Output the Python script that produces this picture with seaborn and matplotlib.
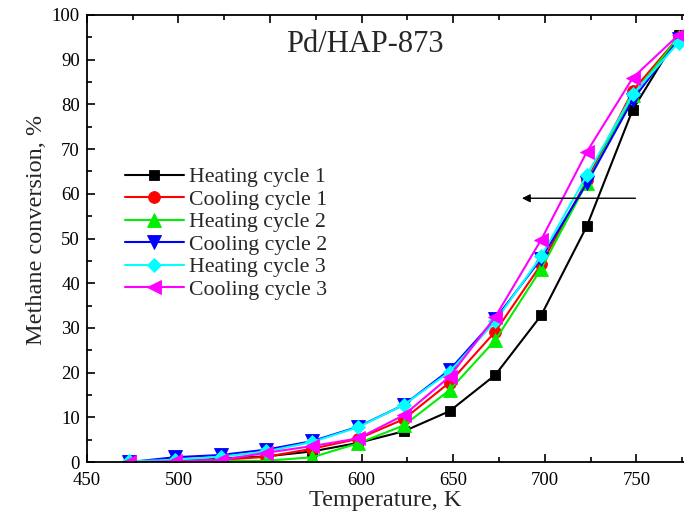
import matplotlib
matplotlib.use("Agg")
import matplotlib.pyplot as plt
import seaborn as sns
import pandas as pd
from matplotlib.ticker import MultipleLocator

temperature = [473, 498, 523, 548, 573, 598, 623, 648, 673, 698, 723, 748, 773]
heating1 = [0.0, 0.3, 0.8, 1.3, 2.4, 4.3, 6.9, 11.4, 19.5, 32.8, 52.8, 78.8, 95.5]
cooling1 = [0.0, 0.3, 0.5, 1.2, 3.0, 5.2, 9.6, 17.8, 29.2, 44.2, 63.0, 83.0, 95.0]
heating2 = [0.3, 0.2, 0.3, 0.3, 1.1, 4.2, 8.2, 16.1, 27.3, 43.2, 62.5, 82.0, 95.0]
cooling2 = [0.0, 1.1, 1.6, 2.8, 4.7, 7.9, 12.8, 20.6, 32.0, 45.5, 62.4, 81.0, 94.5]
heating3 = [0.2, 0.5, 1.2, 2.4, 4.5, 7.8, 12.8, 20.2, 31.5, 46.0, 64.2, 82.2, 93.8]
cooling3 = [0.0, 0.2, 0.5, 2.1, 3.6, 5.3, 10.5, 19.1, 32.5, 49.7, 69.4, 85.9, 95.5]

series_names = ["Heating cycle 1", "Cooling cycle 1", "Heating cycle 2",
                "Cooling cycle 2", "Heating cycle 3", "Cooling cycle 3"]
series_values = [heating1, cooling1, heating2, cooling2, heating3, cooling3]
colors = ["#000000", "#ff0000", "#00ee00", "#0000ff", "#00ffff", "#ff00ff"]
markers = ["s", "o", "^", "v", "D", "<"]
msizes = [7.5, 8.5, 9.5, 9.5, 7.5, 9.5]

rows = []
for name, vals in zip(series_names, series_values):
    for t, v in zip(temperature, vals):
        rows.append({"T": t, "conv": v, "series": name})
df = pd.DataFrame(rows)

sns.set_theme(style="ticks")
plt.rcParams["font.family"] = ["Liberation Serif", "DejaVu Serif"]
plt.rcParams["mathtext.fontset"] = "stix"

fig = plt.figure(figsize=(6.84, 5.30), dpi=100)
ax = fig.add_axes([0.127, 0.128, 0.873, 0.844])

sns.lineplot(data=df, x="T", y="conv", hue="series", style="series",
             hue_order=series_names, style_order=series_names,
             palette=dict(zip(series_names, colors)),
             markers=dict(zip(series_names, markers)),
             dashes=False, markersize=8, linewidth=1.5,
             markeredgewidth=0.6, ax=ax, legend=True)

for line, ms, c in zip(ax.get_lines(), msizes, colors):
    line.set_markersize(ms)
    line.set_markeredgecolor(c)

ax.set_xlim(450, 776)
ax.set_ylim(0, 100)
ax.xaxis.set_major_locator(MultipleLocator(50))
ax.xaxis.set_minor_locator(MultipleLocator(25))
ax.yaxis.set_major_locator(MultipleLocator(10))
ax.yaxis.set_minor_locator(MultipleLocator(5))
ax.tick_params(which="both", direction="in", top=True, right=False,
               labelsize=13.5, width=1.2, colors="black")
ax.tick_params(axis="x", which="major", pad=7)
ax.tick_params(axis="y", which="major", pad=5)
ax.tick_params(which="major", length=6)
ax.tick_params(which="minor", length=3.5)
for sp in ["left", "bottom", "top"]:
    ax.spines[sp].set_linewidth(1.3)
    ax.spines[sp].set_color("black")
ax.spines["right"].set_visible(False)

ax.set_xlabel("Temperature, K", fontsize=17.5, labelpad=1)
ax.set_ylabel("Methane conversion, %", fontsize=17.5)
ax.yaxis.set_label_coords(-0.067, 0.52)

ax.text(602, 93.3, "Pd/HAP-873", fontsize=22, ha="center", va="center")

ax.annotate("", xy=(686, 59), xytext=(751, 59),
            arrowprops=dict(arrowstyle="-|>", color="black", lw=1.0,
                            mutation_scale=12))

leg = ax.legend(loc="upper left", bbox_to_anchor=(0.049, 0.679), frameon=False,
                fontsize=15.7, handlelength=2.7, handletextpad=0.25,
                labelspacing=0.1, borderaxespad=0)
for h, ms, c in zip(leg.legend_handles, msizes, colors):
    h.set_markersize(ms)
    h.set_markeredgecolor(c)

fig.savefig("out.png", dpi=100)
